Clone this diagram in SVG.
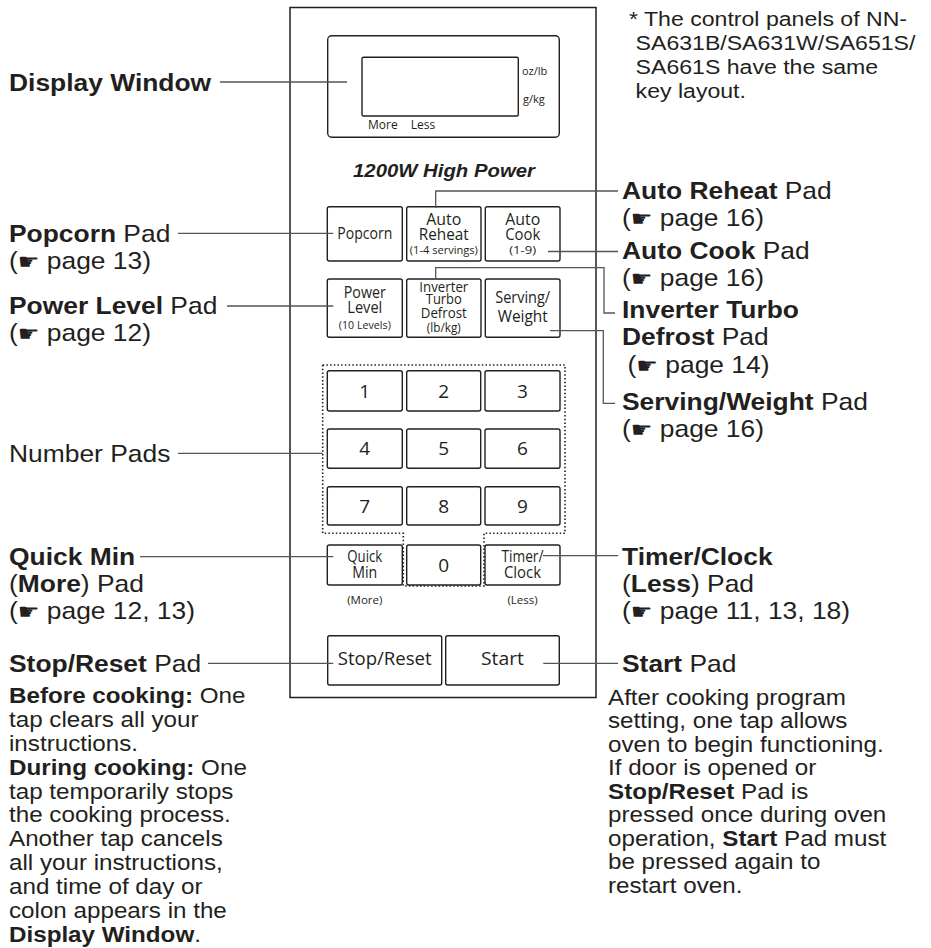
<svg xmlns="http://www.w3.org/2000/svg" width="931" height="948" viewBox="0 0 931 948">
<style>
.t{font-family:"Liberation Sans",Arial,sans-serif;fill:#231f20}
.h{font-size:24px}
.bd{font-size:22px}
.nt{font-size:21px}
.b{font-weight:bold}
.hand{font-family:"DejaVu Sans",sans-serif;font-size:22px}
.btn{fill:#fff;stroke:#231f20;stroke-width:1.4}
.bt{font-family:"Open Sans","Noto Sans",sans-serif;fill:#231f20;text-anchor:middle;font-size:16px}
.sm{font-size:11.5px}
.md{font-size:14px}
.dg{font-size:19px}
.ld{stroke:#555;stroke-width:1.3;fill:none}
.dot{stroke:#231f20;stroke-width:1.6;fill:none;stroke-dasharray:1.5 2.2}
</style>

<g id="panel">
  <rect x="290" y="7.5" width="306" height="690" fill="none" stroke="#231f20" stroke-width="1.5"/>
</g>

<g id="display">
  <rect x="327.7" y="35.7" width="231.6" height="101.6" rx="4" class="btn"/>
  <rect x="362" y="57.3" width="156.3" height="58.7" rx="1.5" class="btn"/>
  <text x="522" y="75" class="bt" style="text-anchor:start;font-size:11px">oz/lb</text>
  <text x="523" y="103" class="bt" style="text-anchor:start;font-size:11px">g/kg</text>
  <text x="368" y="129" class="bt" style="text-anchor:start;font-size:12px">More</text>
  <text x="410.7" y="129" class="bt" style="text-anchor:start;font-size:12px">Less</text>
</g>

<g id="title">
  <text x="353" y="177" class="t b" font-style="italic" font-size="19" textLength="182" lengthAdjust="spacingAndGlyphs">1200W  High Power</text>
</g>

<g id="btn-popcorn">
  <rect x="327.3" y="206.7" width="75" height="54.3" rx="2" class="btn"/>
  <text x="364.8" y="239" class="bt" textLength="55" lengthAdjust="spacingAndGlyphs">Popcorn</text>
</g>
<g id="btn-autoreheat">
  <rect x="406.7" y="206.7" width="74.3" height="54.3" rx="2" class="btn"/>
  <text x="443.8" y="225" class="bt" textLength="35" lengthAdjust="spacingAndGlyphs">Auto</text>
  <text x="443.8" y="239.5" class="bt" textLength="50" lengthAdjust="spacingAndGlyphs">Reheat</text>
  <text x="443.8" y="254" class="bt sm" textLength="68" lengthAdjust="spacingAndGlyphs">(1-4 servings)</text>
</g>
<g id="btn-autocook">
  <rect x="485.3" y="206.7" width="74.7" height="54.3" rx="2" class="btn"/>
  <text x="522.7" y="225" class="bt" textLength="35" lengthAdjust="spacingAndGlyphs">Auto</text>
  <text x="522.7" y="239.5" class="bt" textLength="35" lengthAdjust="spacingAndGlyphs">Cook</text>
  <text x="522.7" y="254" class="bt sm" textLength="27" lengthAdjust="spacingAndGlyphs">(1-9)</text>
</g>
<g id="btn-power">
  <rect x="327.3" y="279" width="75" height="58.3" rx="2" class="btn"/>
  <text x="364.8" y="298" class="bt" textLength="42" lengthAdjust="spacingAndGlyphs">Power</text>
  <text x="364.8" y="313" class="bt" textLength="35" lengthAdjust="spacingAndGlyphs">Level</text>
  <text x="364.8" y="328.5" class="bt sm" textLength="52" lengthAdjust="spacingAndGlyphs">(10 Levels)</text>
</g>
<g id="btn-defrost">
  <rect x="406.7" y="279" width="74.3" height="58.3" rx="2" class="btn"/>
  <text x="443.8" y="291.5" class="bt md" textLength="49" lengthAdjust="spacingAndGlyphs">Inverter</text>
  <text x="443.8" y="304" class="bt md" textLength="36" lengthAdjust="spacingAndGlyphs">Turbo</text>
  <text x="443.8" y="317.5" class="bt md" textLength="46" lengthAdjust="spacingAndGlyphs">Defrost</text>
  <text x="443.8" y="331.5" class="bt" style="font-size:12.5px" textLength="34" lengthAdjust="spacingAndGlyphs">(lb/kg)</text>
</g>
<g id="btn-serving">
  <rect x="485.3" y="279" width="74.7" height="58.3" rx="2" class="btn"/>
  <text x="522.7" y="303" class="bt" style="font-size:17px" textLength="55" lengthAdjust="spacingAndGlyphs">Serving/</text>
  <text x="522.7" y="321.5" class="bt" style="font-size:17px" textLength="50" lengthAdjust="spacingAndGlyphs">Weight</text>
</g>

<g id="numpad">
  <path class="dot" d="M322.7 365 H565 V533.3 H484 V586 H403.3 V533.3 H322.7 Z"/>
  <g id="btn-1"><rect x="327.3" y="370.7" width="75" height="40.3" rx="2" class="btn"/><text x="364.8" y="397.5" class="bt dg">1</text></g>
  <g id="btn-2"><rect x="406.7" y="370.7" width="74" height="40.3" rx="2" class="btn"/><text x="443.8" y="397.5" class="bt dg">2</text></g>
  <g id="btn-3"><rect x="485" y="370.7" width="75" height="40.3" rx="2" class="btn"/><text x="522.5" y="397.5" class="bt dg">3</text></g>
  <g id="btn-4"><rect x="327.3" y="429" width="75" height="39.3" rx="2" class="btn"/><text x="364.8" y="455" class="bt dg">4</text></g>
  <g id="btn-5"><rect x="406.7" y="429" width="74" height="39.3" rx="2" class="btn"/><text x="443.8" y="455" class="bt dg">5</text></g>
  <g id="btn-6"><rect x="485" y="429" width="75" height="39.3" rx="2" class="btn"/><text x="522.5" y="455" class="bt dg">6</text></g>
  <g id="btn-7"><rect x="327.3" y="486.7" width="75" height="38.3" rx="2" class="btn"/><text x="364.8" y="512.5" class="bt dg">7</text></g>
  <g id="btn-8"><rect x="406.7" y="486.7" width="74" height="38.3" rx="2" class="btn"/><text x="443.8" y="512.5" class="bt dg">8</text></g>
  <g id="btn-9"><rect x="485" y="486.7" width="75" height="38.3" rx="2" class="btn"/><text x="522.5" y="512.5" class="bt dg">9</text></g>
  <g id="btn-0"><rect x="406.7" y="545" width="74" height="40" rx="2" class="btn"/><text x="443.8" y="572" class="bt dg">0</text></g>
</g>

<g id="btn-quickmin">
  <rect x="327.3" y="545" width="75" height="40" rx="2" class="btn"/>
  <text x="364.8" y="562" class="bt" textLength="35" lengthAdjust="spacingAndGlyphs">Quick</text>
  <text x="364.8" y="578" class="bt" textLength="25" lengthAdjust="spacingAndGlyphs">Min</text>
  <text x="364.8" y="604" class="bt sm">(More)</text>
</g>
<g id="btn-timer">
  <rect x="485" y="545" width="75" height="40" rx="2" class="btn"/>
  <text x="522.5" y="562" class="bt" textLength="42" lengthAdjust="spacingAndGlyphs">Timer/</text>
  <text x="522.5" y="578" class="bt" textLength="37" lengthAdjust="spacingAndGlyphs">Clock</text>
  <text x="522.5" y="604" class="bt sm">(Less)</text>
</g>
<g id="btn-stop">
  <rect x="327.7" y="635.7" width="114" height="49.3" rx="2" class="btn"/>
  <text x="384.7" y="665" class="bt" style="font-size:19px" textLength="94" lengthAdjust="spacingAndGlyphs">Stop/Reset</text>
</g>
<g id="btn-start">
  <rect x="445.7" y="635.7" width="113.6" height="49.3" rx="2" class="btn"/>
  <text x="502.5" y="665" class="bt" style="font-size:19px" textLength="43" lengthAdjust="spacingAndGlyphs">Start</text>
</g>

<g id="connectors">
  <path class="ld" d="M220 82 H347"/>
  <path class="ld" d="M178 233.3 H333.3"/>
  <path class="ld" d="M227 306 H333.3"/>
  <path class="ld" d="M178 453.3 H322.7"/>
  <path class="ld" d="M140 556.7 H333.3"/>
  <path class="ld" d="M208 663.3 H333.3"/>
  <path class="ld" d="M435.7 208 V191 H618"/>
  <path class="ld" d="M548 251.5 H618"/>
  <path class="ld" d="M435.7 280 V267.7 H604 V313 H615"/>
  <path class="ld" d="M550 330.7 H603.3 V403.3 H615"/>
  <path class="ld" d="M543 555.7 H618"/>
  <path class="ld" d="M543.3 663.3 H618"/>
</g>

<g id="note" transform="translate(629,0) scale(1.1,1)">
  <text class="t nt" x="0" y="26">* The control panels of NN-</text>
  <text class="t nt" x="6" y="50">SA631B/SA631W/SA651S/</text>
  <text class="t nt" x="6" y="74">SA661S have the same</text>
  <text class="t nt" x="6" y="98">key layout.</text>
</g>

<g id="lbl-display" transform="translate(9,0) scale(1.1,1)">
  <text class="t h b" x="0" y="91">Display Window</text>
</g>
<g id="lbl-popcorn" transform="translate(9,0) scale(1.1,1)">
  <text class="t h" x="0" y="242"><tspan class="b">Popcorn</tspan> Pad</text>
  <text class="t h" x="0" y="269">(<tspan class="hand">☛</tspan> page 13)</text>
</g>
<g id="lbl-power" transform="translate(9,0) scale(1.1,1)">
  <text class="t h" x="0" y="314"><tspan class="b">Power Level</tspan> Pad</text>
  <text class="t h" x="0" y="341">(<tspan class="hand">☛</tspan> page 12)</text>
</g>
<g id="lbl-number" transform="translate(9,0) scale(1.1,1)">
  <text class="t h" x="0" y="462">Number Pads</text>
</g>
<g id="lbl-quickmin" transform="translate(9,0) scale(1.1,1)">
  <text class="t h b" x="0" y="565">Quick Min</text>
  <text class="t h" x="0" y="592">(<tspan class="b">More</tspan>) Pad</text>
  <text class="t h" x="0" y="619">(<tspan class="hand">☛</tspan> page 12, 13)</text>
</g>
<g id="lbl-stop" transform="translate(9,0) scale(1.1,1)">
  <text class="t h" x="0" y="672"><tspan class="b">Stop/Reset</tspan> Pad</text>
  <text class="t bd" x="0" y="703"><tspan class="b">Before cooking:</tspan> One</text>
  <text class="t bd" x="0" y="726.9">tap clears all your</text>
  <text class="t bd" x="0" y="750.8">instructions.</text>
  <text class="t bd" x="0" y="774.7"><tspan class="b">During cooking:</tspan> One</text>
  <text class="t bd" x="0" y="798.6">tap temporarily stops</text>
  <text class="t bd" x="0" y="822.5">the cooking process.</text>
  <text class="t bd" x="0" y="846.4">Another tap cancels</text>
  <text class="t bd" x="0" y="870.3">all your instructions,</text>
  <text class="t bd" x="0" y="894.2">and time of day or</text>
  <text class="t bd" x="0" y="918.1">colon appears in the</text>
  <text class="t bd" x="0" y="942"><tspan class="b">Display Window</tspan>.</text>
</g>

<g id="lbl-autoreheat" transform="translate(622,0) scale(1.1,1)">
  <text class="t h" x="0" y="199"><tspan class="b">Auto Reheat</tspan> Pad</text>
  <text class="t h" x="0" y="226">(<tspan class="hand">☛</tspan> page 16)</text>
</g>
<g id="lbl-autocook" transform="translate(622,0) scale(1.1,1)">
  <text class="t h" x="0" y="259"><tspan class="b">Auto Cook</tspan> Pad</text>
  <text class="t h" x="0" y="286">(<tspan class="hand">☛</tspan> page 16)</text>
</g>
<g id="lbl-defrost" transform="translate(622,0) scale(1.1,1)">
  <text class="t h b" x="0" y="318">Inverter Turbo</text>
  <text class="t h" x="0" y="345"><tspan class="b">Defrost</tspan> Pad</text>
  <text class="t h" x="5" y="373">(<tspan class="hand">☛</tspan> page 14)</text>
</g>
<g id="lbl-serving" transform="translate(622,0) scale(1.1,1)">
  <text class="t h" x="0" y="410"><tspan class="b">Serving/Weight</tspan> Pad</text>
  <text class="t h" x="0" y="437">(<tspan class="hand">☛</tspan> page 16)</text>
</g>
<g id="lbl-timer" transform="translate(622,0) scale(1.1,1)">
  <text class="t h b" x="0" y="565">Timer/Clock</text>
  <text class="t h" x="0" y="592">(<tspan class="b">Less</tspan>) Pad</text>
  <text class="t h" x="0" y="619">(<tspan class="hand">☛</tspan> page 11, 13, 18)</text>
</g>
<g id="lbl-start" transform="translate(622,0) scale(1.1,1)">
  <text class="t h" x="0" y="672"><tspan class="b">Start</tspan> Pad</text>
</g>
<g id="txt-start" transform="translate(608,0) scale(1.1,1)">
  <text class="t bd" x="0" y="705">After cooking program</text>
  <text class="t bd" x="0" y="728.5">setting, one tap allows</text>
  <text class="t bd" x="0" y="752">oven to begin functioning.</text>
  <text class="t bd" x="0" y="775.5">If door is opened or</text>
  <text class="t bd" x="0" y="799"><tspan class="b">Stop/Reset</tspan> Pad is</text>
  <text class="t bd" x="0" y="822.5">pressed once during oven</text>
  <text class="t bd" x="0" y="846">operation, <tspan class="b">Start</tspan> Pad must</text>
  <text class="t bd" x="0" y="869.5">be pressed again to</text>
  <text class="t bd" x="0" y="893">restart oven.</text>
</g>
</svg>
